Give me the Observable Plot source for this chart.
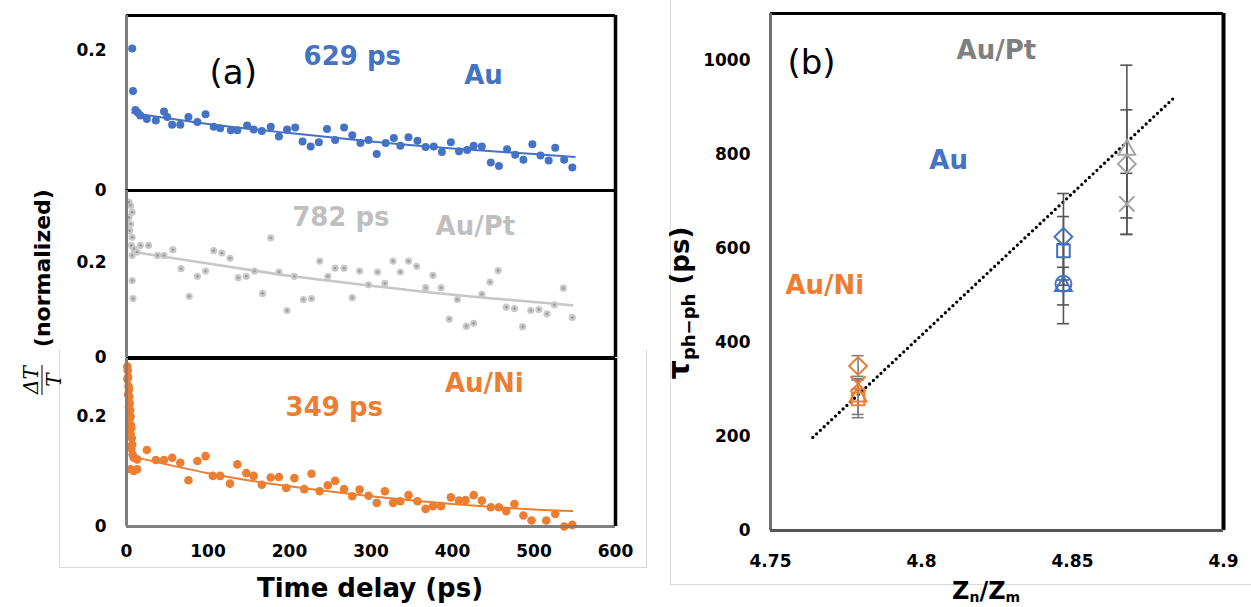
<!DOCTYPE html>
<html><head><meta charset="utf-8">
<script src="https://cdn.jsdelivr.net/npm/d3@7"></script>
<script src="https://cdn.jsdelivr.net/npm/@observablehq/plot@0.6"></script>
<style>
body{margin:0;background:#fff;}
#root{position:relative;z-index:0;width:1251px;height:607px;overflow:hidden;background:#fff;font-family:"DejaVu Sans",sans-serif;}
#root svg{position:absolute;}
.lbl{position:absolute;white-space:nowrap;line-height:1;color:#000;}
</style></head><body><div id="root"></div>
<script>
// ---------- Panel (a) data ----------
const timeTicks = [0, 100, 200, 300, 400, 500, 600];
const dtTicks = [0, 0.2];

const auT = [7,8,11,14,17,25,36,46,50,56,66,76,87,97,107,115,128,136,148,156,166,177,187,197,207,216,226,236,246,256,267,277,287,297,307,318,328,
  336,346,357,367,377,387,398,408,418,426,436,447,457,467,477,487,498,508,518,526,537,547];
const auV = [0.203,0.142,0.115,0.111,0.107,0.102,0.100,0.113,0.105,0.094,0.094,0.105,0.098,0.109,0.091,0.089,0.086,0.086,0.093,0.087,0.085,0.091,0.077,0.087,0.090,0.070,0.063,0.069,0.088,0.072,0.090,0.079,0.068,0.072,0.052,0.068,0.075,
  0.064,0.076,0.071,0.062,0.063,0.055,0.069,0.056,0.058,0.064,0.063,0.040,0.035,0.059,0.051,0.044,0.066,0.050,0.043,0.061,0.044,0.033];
const auFitT = [7,100,200,300,400,500,550];
const auFitV = [0.111,0.095,0.082,0.070,0.060,0.052,0.048];

const ptT = [3,5,7,3,5,4,7,6,9,13,7,7,8,17,27,38,46,57,67,77,87,97,107,117,127,137,147,157,167,177,187,197,206,217,227,237,247,256,267,277,286,297,308,317,327,336,346,356,
  367,376,386,396,406,417,426,436,446,456,466,476,486,496,506,516,525,536,547];
const ptV = [0.327,0.320,0.306,0.295,0.281,0.267,0.253,0.236,0.229,0.222,0.215,0.162,0.124,0.236,0.236,0.215,0.215,0.227,0.187,0.129,0.171,0.182,0.225,0.220,0.209,0.168,0.171,0.182,0.135,0.252,0.180,0.099,0.171,0.122,0.124,0.203,0.171,0.188,0.188,0.126,0.182,0.153,0.180,0.156,0.203,0.180,0.203,0.192,
  0.147,0.173,0.147,0.081,0.122,0.066,0.072,0.133,0.159,0.183,0.106,0.103,0.065,0.099,0.101,0.092,0.111,0.146,0.084];
const ptFitT = [9,100,200,300,400,500,547];
const ptFitV = [0.222,0.198,0.172,0.151,0.132,0.117,0.110];

const niT = [1,1.5,2,1,2.5,3,2,3.5,4,3,4.5,5,4,5.5,6,5,6.5,7,6,7.5,
  9,13,5,9,13,25,36,46,56,66,76,87,97,106,115,127,136,147,156,166,177,187,196,206,218,227,237,247,256,267,277,286,297,307,317,327,336,346,357,
  367,376,386,398,408,416,426,436,447,457,466,476,487,497,515,526,537,547];
const niV = [0.291,0.284,0.272,0.268,0.255,0.249,0.240,0.236,0.224,0.217,0.212,0.200,0.196,0.184,0.179,0.168,0.161,0.149,0.142,0.131,
  0.125,0.122,0.104,0.101,0.104,0.139,0.121,0.121,0.125,0.116,0.084,0.119,0.128,0.092,0.092,0.078,0.113,0.097,0.092,0.076,0.089,0.090,0.070,0.088,0.068,0.096,0.064,0.075,0.083,0.068,0.055,0.067,0.056,0.043,0.064,0.043,0.046,0.057,0.046,
  0.032,0.037,0.037,0.053,0.047,0.048,0.057,0.047,0.035,0.035,0.028,0.041,0.020,0.011,0.011,0.023,0.000,0.003];
const niFitT = [5,100,200,300,400,500,547];
const niFitV = [0.128,0.097,0.073,0.055,0.041,0.031,0.028];

const labelsA = ["(a)", "629 ps", "Au", "782 ps", "Au/Pt", "349 ps", "Au/Ni"];

// ---------- Panel (b) data ----------
const zTicks = [4.75, 4.8, 4.85, 4.9];
const tauTicks = [0, 200, 400, 600, 800, 1000];
const bMat = ["Au/Ni","Au/Ni","Au/Ni","Au/Ni","Au","Au","Au","Au","Au/Pt","Au/Pt","Au/Pt"];
const bZ   = [4.779,4.779,4.779,4.779, 4.847,4.847,4.847,4.847, 4.868,4.868,4.868];
const bTau = [350,312,280,285, 625,595,525,520, 810,780,695];
const bErr = [22,11,40,38, 92,73,85,40, 180,115,65];
const bSym = ["diamond2","times","square2","triangle2","diamond2","square2","circle","triangle2","triangle2","diamond2","times"];
const fitZ = [4.764, 4.884];
const fitTau = [198, 923];
const labelsB = ["(b)", "Au/Pt", "Au", "Au/Ni"];

// ---------- helpers ----------
const BLUE = "#4472C4", ORANGE = "#ED7D31", LGRAY = "#BFBFBF";
const root = document.getElementById("root");
const F = "DejaVu Sans";
const tickFont = {fontFamily: F, fontSize: 17, fontWeight: "bold"};
const annFont = {fontFamily: F, fontSize: 26, fontWeight: "bold"};
const zip = (a, b) => a.map((x, i) => ({x, y: b[i]}));
function put(svg, left, top) { svg.style.left = left + "px"; svg.style.top = top + "px"; root.appendChild(svg); }
const baseStyle = {background: "transparent", overflow: "visible"};
function div(html, css) { const d = document.createElement("div"); d.className = "lbl"; d.innerHTML = html; Object.assign(d.style, css); root.appendChild(d); return d; }

// light chart-area borders (behind everything)
div("", {left: "59px", top: "350px", width: "586px", height: "217px", borderLeft: "1px solid #d9d9d9", borderRight: "1px solid #d9d9d9", borderBottom: "1px solid #d9d9d9"});
div("", {left: "670px", top: "0px", width: "600px", height: "584px", borderLeft: "1px solid #d9d9d9", borderBottom: "1px solid #d9d9d9"});

function framesA(yMax, bottomGray) {
  return [
    Plot.ruleY([0], {stroke: bottomGray ? "#7f7f7f" : "black", strokeWidth: 3}),
    Plot.ruleY([yMax], {stroke: "black", strokeWidth: 3}),
    Plot.ruleX([600], {stroke: "black", strokeWidth: 3.5}),
    Plot.ruleX([0], {stroke: "#7f7f7f", strokeWidth: 3})
  ];
}
const yAxisA = () => Plot.axisY({ticks: dtTicks, tickSize: 0, tickPadding: 20, tickFormat: d => String(d), label: null, ...tickFont});

// ---------- top: Au ----------
put(Plot.plot({
  width: 660, height: 200, marginLeft: 126, marginRight: 45, marginTop: 15, marginBottom: 10,
  style: baseStyle,
  x: {domain: [0, 600], axis: null}, y: {domain: [0, 0.25], axis: null},
  marks: [
    yAxisA(),
    Plot.line(zip(auFitT, auFitV), {x: "x", y: "y", stroke: BLUE, strokeWidth: 2, curve: "natural"}),
    Plot.dot(zip(auT, auV), {x: "x", y: "y", r: 4, fill: BLUE}),
    ...framesA(0.25, false),
    Plot.text([labelsA[0]], {text: d => d, x: 131, y: 0.167, fontFamily: F, fontSize: 34, fill: "black"}),
    Plot.text([labelsA[1]], {text: d => d, x: 277, y: 0.191, ...annFont, fill: BLUE}),
    Plot.text([labelsA[2]], {text: d => d, x: 438, y: 0.164, ...annFont, fill: BLUE})
  ]
}), 0, 0);

// ---------- middle: Au/Pt ----------
put(Plot.plot({
  width: 660, height: 187, marginLeft: 126, marginRight: 45, marginTop: 10, marginBottom: 10,
  style: baseStyle,
  x: {domain: [0, 600], axis: null}, y: {domain: [0, 0.3516], axis: null},
  marks: [
    yAxisA(),
    Plot.line(zip(ptFitT, ptFitV), {x: "x", y: "y", stroke: "#c6c6c6", strokeWidth: 2.5, curve: "natural"}),
    Plot.dot(zip(ptT, ptV), {x: "x", y: "y", r: 3.6, fill: "#c9c9c9"}),
    Plot.dot(zip(ptT, ptV), {x: "x", y: "y", r: 1.3, fill: "#9a9a9a"}),
    ...framesA(0.3516, false),
    Plot.text([labelsA[3]], {text: d => d, x: 263, y: 0.295, ...annFont, fill: LGRAY}),
    Plot.text([labelsA[4]], {text: d => d, x: 428, y: 0.276, ...annFont, fill: LGRAY})
  ]
}), 0, 180);

// ---------- bottom: Au/Ni ----------
put(Plot.plot({
  width: 660, height: 259, marginLeft: 126, marginRight: 45, marginTop: 10, marginBottom: 81,
  style: baseStyle,
  x: {domain: [0, 600], axis: null}, y: {domain: [0, 0.3055], axis: null},
  marks: [
    yAxisA(),
    Plot.axisX({ticks: timeTicks, tickSize: 0, tickPadding: 18, tickFormat: d => String(d), label: null, ...tickFont}),
    Plot.line(zip(niFitT, niFitV), {x: "x", y: "y", stroke: ORANGE, strokeWidth: 2, curve: "natural"}),
    Plot.dot(zip(niT, niV), {x: "x", y: "y", r: 4.3, fill: ORANGE}),
    ...framesA(0.3055, true),
    Plot.text([labelsA[5]], {text: d => d, x: 255, y: 0.2165, ...annFont, fill: ORANGE}),
    Plot.text([labelsA[6]], {text: d => d, x: 439, y: 0.2605, ...annFont, fill: ORANGE})
  ]
}), 0, 348);

// ---------- panel (b) ----------
const bData = bMat.map((m, i) => ({mat: m, z: bZ[i], tau: bTau[i], err: bErr[i], sym: bSym[i]}));
const markerColor = {"Au/Ni": ORANGE, "Au": BLUE, "Au/Pt": "#A6A6A6"};
const errColor = {"Au/Ni": "#7f7f7f", "Au": "#555555", "Au/Pt": "#555555"};
const markMarks = [];
for (const m of ["Au/Ni", "Au", "Au/Pt"]) {
  const sub = bData.filter(d => d.mat === m);
  const ec = errColor[m];
  markMarks.push(
    Plot.ruleX(sub, {x: "z", y1: d => d.tau - d.err, y2: d => d.tau + d.err, stroke: ec, strokeWidth: 1.6}),
    Plot.ruleY(sub, {y: d => d.tau - d.err, x1: d => d.z - 0.002, x2: d => d.z + 0.002, stroke: ec, strokeWidth: 1.6}),
    Plot.ruleY(sub, {y: d => d.tau + d.err, x1: d => d.z - 0.002, x2: d => d.z + 0.002, stroke: ec, strokeWidth: 1.6})
  );
}
for (const m of ["Au/Ni", "Au", "Au/Pt"]) {
  for (const s of ["circle", "square2", "triangle2", "diamond2", "times"]) {
    const sub = bData.filter(d => d.mat === m && d.sym === s);
    if (sub.length) markMarks.push(Plot.dot(sub, {x: "z", y: "tau", symbol: s, r: s === "times" ? 7 : 8, stroke: markerColor[m], strokeWidth: 2, fill: "none"}));
  }
}

put(Plot.plot({
  width: 611, height: 607, marginLeft: 130, marginRight: 28, marginTop: 13, marginBottom: 77,
  style: baseStyle,
  x: {domain: [4.75, 4.9], axis: null}, y: {domain: [0, 1100], axis: null},
  marks: [
    Plot.axisY({ticks: tauTicks, tickSize: 0, tickPadding: 20, tickFormat: d => String(d), label: null, ...tickFont}),
    Plot.axisX({ticks: zTicks, tickSize: 0, tickPadding: 24, tickFormat: d => String(d), label: null, ...tickFont}),
    Plot.line(zip(fitZ, fitTau), {x: "x", y: "y", stroke: "black", strokeWidth: 3.3, strokeDasharray: "0 5.2", strokeLinecap: "round"}),
    ...markMarks,
    Plot.ruleY([1100], {stroke: "black", strokeWidth: 3}),
    Plot.ruleX([4.9], {stroke: "black", strokeWidth: 4}),
    Plot.ruleX([4.75], {stroke: "#6f6f6f", strokeWidth: 3}),
    Plot.ruleY([0], {stroke: "#555555", strokeWidth: 3}),
    Plot.text([labelsB[0]], {text: d => d, x: 4.7636, y: 994, fontFamily: F, fontSize: 34, fill: "black"}),
    Plot.text([labelsB[1]], {text: d => d, x: 4.8248, y: 1021, ...annFont, fill: "#7F7F7F"}),
    Plot.text([labelsB[2]], {text: d => d, x: 4.809, y: 787, ...annFont, fill: BLUE}),
    Plot.text([labelsB[3]], {text: d => d, x: 4.768, y: 521, ...annFont, fill: ORANGE})
  ]
}), 640, 0);

// ---------- HTML titles ----------
div('<span style="display:inline-flex;flex-direction:column;align-items:center;font:italic 20px \'DejaVu Serif\';line-height:1;margin-right:18px;"><span style="border-bottom:1.5px solid #000;padding:0 1px 1px;">ΔT</span><span style="padding-top:1px">T</span></span><span>(normalized)</span>',
  {left: "42px", top: "292px", transform: "translate(-50%,-50%) rotate(-90deg)", display: "flex", alignItems: "center", font: "bold 22px 'DejaVu Sans'"});
div("Time delay (ps)", {left: "370px", top: "588px", transform: "translate(-50%,-50%)", font: "bold 26px 'DejaVu Sans'"});
div('<span style="font-size:30px">τ</span><sub style="font-size:18px;vertical-align:-0.3em">ph−ph</sub> (ps)',
  {left: "680px", top: "303px", transform: "translate(-50%,-50%) rotate(-90deg)", font: "bold 26px 'DejaVu Sans'"});
div('Z<sub style="font-size:14px;vertical-align:-0.2em">n</sub>/Z<sub style="font-size:14px;vertical-align:-0.2em">m</sub>',
  {left: "952px", top: "577px", font: "bold 24px 'DejaVu Sans'"});
</script>
</body></html>
